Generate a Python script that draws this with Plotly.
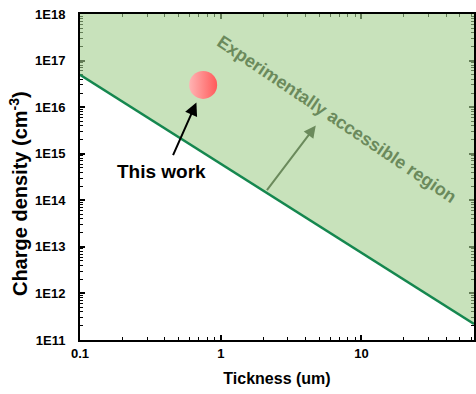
import plotly.graph_objects as go
import numpy as np

# Data
thickness_um = [0.1, 63.0]              # boundary line (thickness, um)
charge_density = [4.95e16, 2.2e11]      # boundary line (cm^-3)
density_top = 1e18                      # top of accessible region
this_work_thickness = [0.75]
this_work_density = [3.0e16]
x_tickvals = [0.1, 1, 10]
x_ticktext = ["0.1", "1", "10"]
y_tickvals = [1e11, 1e12, 1e13, 1e14, 1e15, 1e16, 1e17, 1e18]
y_ticktext = ["1E11", "1E12", "1E13", "1E14", "1E15", "1E16", "1E17", "1E18"]
minor_digits = [2, 3, 4, 5, 6, 7, 8, 9]
x_minor = [d * 10.0 ** e for e in (-1, 0, 1) for d in minor_digits]
y_minor = [d * 10.0 ** e for e in range(11, 18) for d in minor_digits]

FONT = "Liberation Sans, Arial, sans-serif"

fig = go.Figure()

# accessible region fill
fig.add_trace(go.Scatter(
    x=thickness_um + thickness_um[::-1],
    y=charge_density + [density_top, density_top],
    fill="toself", fillcolor="rgba(163,207,142,0.6)",
    line=dict(width=0), mode="lines", hoverinfo="skip", showlegend=False))

# boundary line
fig.add_trace(go.Scatter(
    x=thickness_um, y=charge_density, mode="lines",
    line=dict(color="#15874f", width=2.5), showlegend=False))

# this work point
fig.add_trace(go.Scatter(
    x=this_work_thickness, y=this_work_density, mode="markers",
    marker=dict(size=28, color="#ffb4b4",
                gradient=dict(type="horizontal", color="#ff5a5a"),
                line=dict(width=0)),
    showlegend=False))

axis_common = dict(
    type="log", showgrid=False, zeroline=False, showline=True,
    linecolor="black", linewidth=2, mirror="allticks",
    ticks="inside", ticklen=5, tickwidth=1.5, tickcolor="black",
    layer="below traces",
    tickfont=dict(family=FONT, size=13, color="black", weight="bold"),
)

fig.update_layout(
    width=476, height=394,
    margin=dict(l=80, r=0, t=14, b=54),
    paper_bgcolor="white", plot_bgcolor="white",
    xaxis=dict(axis_common, range=[-1, np.log10(63.0)],
               tickvals=x_tickvals, ticktext=x_ticktext,
               minor=dict(tickmode="array", tickvals=x_minor, ticks="inside",
                          ticklen=3, tickwidth=1, tickcolor="black", showgrid=False),
               title=dict(text="Tickness (um)", standoff=13,
                          font=dict(family=FONT, size=16, color="black", weight="bold"))),
    yaxis=dict(axis_common, range=[11, 18],
               tickvals=y_tickvals, ticktext=y_ticktext, ticklabelstandoff=10,
               minor=dict(tickmode="array", tickvals=y_minor, ticks="inside",
                          ticklen=3, tickwidth=1, tickcolor="black", showgrid=False)),
    annotations=[
        dict(xref="paper", yref="paper", x=(18-80)/396, y=(340-194)/325.4,
             xanchor="center", yanchor="middle",
             text="Charge density (cm<sup>-3</sup>)", showarrow=False, textangle=-90,
             font=dict(family=FONT, size=20, color="black", weight="bold")),
        dict(xref="paper", yref="paper", x=(338-80)/396, y=(340-119)/325.4,
             xanchor="center", yanchor="middle",
             text="Experimentally accessible region", showarrow=False,
             textangle=34, font=dict(family=FONT, size=18, color="#6b8a5c", weight="bold")),
        dict(xref="paper", yref="paper", x=(317-80)/396, y=(340-126)/325.4,
             text="", showarrow=True, axref="pixel", ayref="pixel", ax=-50, ay=66,
             arrowhead=2, arrowsize=1.2, arrowwidth=2, arrowcolor="#6b8a5c"),
        dict(xref="paper", yref="paper", x=(197-80)/396, y=(340-103)/325.4,
             text="", showarrow=True, axref="pixel", ayref="pixel", ax=-24, ay=54,
             arrowhead=2, arrowsize=1.3, arrowwidth=2, arrowcolor="black"),
        dict(xref="paper", yref="paper", x=(161.5-80)/396, y=(340-172)/325.4,
             xanchor="center", yanchor="middle",
             text="This work", showarrow=False,
             font=dict(family=FONT, size=19, color="black", weight="bold")),
    ],
)

fig.write_html("out.html")
